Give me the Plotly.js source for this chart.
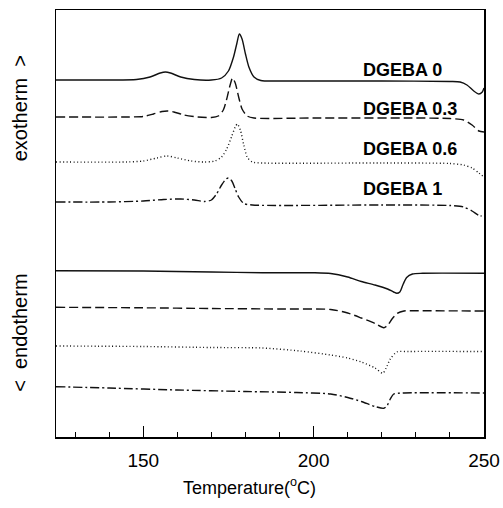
<!DOCTYPE html>
<html>
<head>
<meta charset="utf-8">
<script src="https://cdn.plot.ly/plotly-3.0.1.min.js"></script>
<style>html,body{margin:0;padding:0;background:#fff;}#chart{width:503px;height:508px;}</style>
</head>
<body>
<div id="chart"></div>
<script>
// Exotherm (curing) curves, arbitrary heat-flow units (offset)
const exo0_x = [124.4,140,148,152,155,156.5,158,161,165,170,173,175,176.5,177.5,178.2,179,180,181,182.5,184.5,190,200,220,240,243,245,247,248.5,249.5,250];
const exo0_y = [35.7,35.7,35.75,36.0,36.4,36.5,36.4,36.0,35.75,35.7,35.9,36.6,38.0,39.4,40.3,39.8,38.3,37.0,36.0,35.65,35.6,35.6,35.6,35.55,35.5,35.2,34.6,34.3,34.5,34.9];

const exo03_x = [124.4,145,150,153,155.5,157.3,159,162,166,170,172,173.5,174.5,175.5,176.2,177,178,179,180.5,182.5,200,230,240,244,246.5,248.5,250];
const exo03_y = [32.0,32.0,32.05,32.3,32.55,32.6,32.5,32.2,32.0,31.95,32.1,32.7,33.8,35.2,35.9,35.4,34.0,32.8,32.1,31.9,31.9,31.9,31.85,31.7,31.2,30.6,30.5];

const exo06_x = [124.4,145,150,154,156.9,160,164,168,171,173,174.5,176,177,177.6,178.5,179.5,180.5,182,185,220,240,244,246.5,248.5,250];
const exo06_y = [27.5,27.5,27.6,27.9,28.1,27.9,27.6,27.5,27.6,28.0,28.8,30.1,31.0,31.3,30.7,29.2,28.0,27.5,27.4,27.4,27.35,27.2,26.9,26.4,26.0];

const exo1_x = [124.4,140,150,156,161,165,168,170,171.5,173,174.3,175,176,177,178,179.5,182,220,240,244,246.5,248.5,249.3];
const exo1_y = [23.5,23.5,23.6,23.75,23.8,23.7,23.55,23.7,24.3,25.2,25.8,25.9,25.6,24.8,24.0,23.35,23.2,23.2,23.15,23.0,22.6,22.15,22.1];

// Endotherm (melting) curves
const endo0_x = [124.4,150,170,185,200,205,210,214,218,221.7,223.5,224.4,225.3,226.3,227.3,229,232,250];
const endo0_y = [16.63,16.6,16.5,16.42,16.42,16.35,16.0,15.55,15.2,14.8,14.5,14.37,14.5,15.3,15.95,16.3,16.37,16.37];

const endo03_x = [124.4,150,170,190,205,210,214,218,220.6,221.8,223,224.5,226.5,230,250];
const endo03_y = [12.97,12.92,12.85,12.8,12.75,12.4,11.9,11.35,10.93,11.2,11.8,12.35,12.6,12.62,12.6];

const endo06_x = [124.4,150,170,185,196,205,210,214,218,220.3,221.3,222.5,224.4,228,250];
const endo06_y = [9.1,9.05,8.95,8.9,8.6,8.2,7.9,7.5,6.9,6.37,6.9,7.8,8.5,8.55,8.55];

const endo1_x = [124.4,140,160,180,195,205,210,214,218,220.6,221.5,222.5,223.5,226,250];
const endo1_y = [5.03,4.9,4.7,4.55,4.45,4.3,3.95,3.55,3.05,2.87,3.1,3.8,4.3,4.4,4.4];

const seriesLabels = ["DGEBA 0","DGEBA 0.3","DGEBA 0.6","DGEBA 1"];
const labelX = 213.8;
const labelY = [36.7, 32.8, 28.8, 24.8];
const xTicks = [150, 200, 250];

const dashes = ["solid", "9px,4px", "1px,2.5px", "9px,3px,2px,3px"];
const exo = [[exo0_x,exo0_y],[exo03_x,exo03_y],[exo06_x,exo06_y],[exo1_x,exo1_y]];
const endo = [[endo0_x,endo0_y],[endo03_x,endo03_y],[endo06_x,endo06_y],[endo1_x,endo1_y]];

const FONT = 'Arial, Liberation Sans, sans-serif';
const traces = [];
exo.concat(endo).forEach((c, i) => {
  traces.push({
    x: c[0], y: c[1], mode: 'lines', type: 'scatter',
    line: {color: '#111', width: 1.4, dash: dashes[i % 4], shape: 'spline', smoothing: 0.7},
    hoverinfo: 'skip', showlegend: false
  });
});

const annotations = seriesLabels.map((t, i) => ({
  x: labelX, y: labelY[i], xref: 'x', yref: 'y', text: t, showarrow: false,
  xanchor: 'left', yanchor: 'middle',
  font: {family: FONT, size: 18, color: '#000', weight: 'bold'}
}));
annotations.push({
  x: -0.084, y: 0.77, xref: 'paper', yref: 'paper', text: 'exotherm  >', showarrow: false,
  textangle: -90, xanchor: 'center', yanchor: 'middle',
  font: {family: FONT, size: 20, color: '#000'}
});
annotations.push({
  x: -0.084, y: 0.244, xref: 'paper', yref: 'paper', text: '<  endotherm', showarrow: false,
  textangle: -90, xanchor: 'center', yanchor: 'middle',
  font: {family: FONT, size: 20, color: '#000'}
});
annotations.push({
  x: 0.453, y: -0.117, xref: 'paper', yref: 'paper', text: 'Temperature(<sup>o</sup>C)', showarrow: false,
  xanchor: 'center', yanchor: 'middle',
  font: {family: FONT, size: 18, color: '#000'}
});

const layout = {
  width: 503, height: 508,
  margin: {l: 56, r: 19, t: 10, b: 71},
  paper_bgcolor: '#fff', plot_bgcolor: '#fff',
  font: {family: FONT, color: '#000'},
  xaxis: {
    range: [124.4, 250], tickvals: xTicks, ticktext: xTicks.map(String),
    ticks: 'inside', ticklen: 11, tickwidth: 1.3, tickcolor: '#000',
    minor: {dtick: 10, tick0: 0, ticks: 'inside', ticklen: 5, tickwidth: 1, tickcolor: '#000'},
    showline: true, linecolor: '#000', linewidth: 1.5, mirror: true,
    showgrid: false, zeroline: false, ticklabelstandoff: 6,
    tickfont: {size: 19, family: FONT}
  },
  yaxis: {
    range: [0, 42.7], showticklabels: false, ticks: '',
    showline: true, linecolor: '#000', linewidth: 1.5, mirror: true,
    showgrid: false, zeroline: false
  },
  annotations: annotations
};

Plotly.newPlot('chart', traces, layout, {displayModeBar: false, staticPlot: true});
</script>
</body>
</html>
